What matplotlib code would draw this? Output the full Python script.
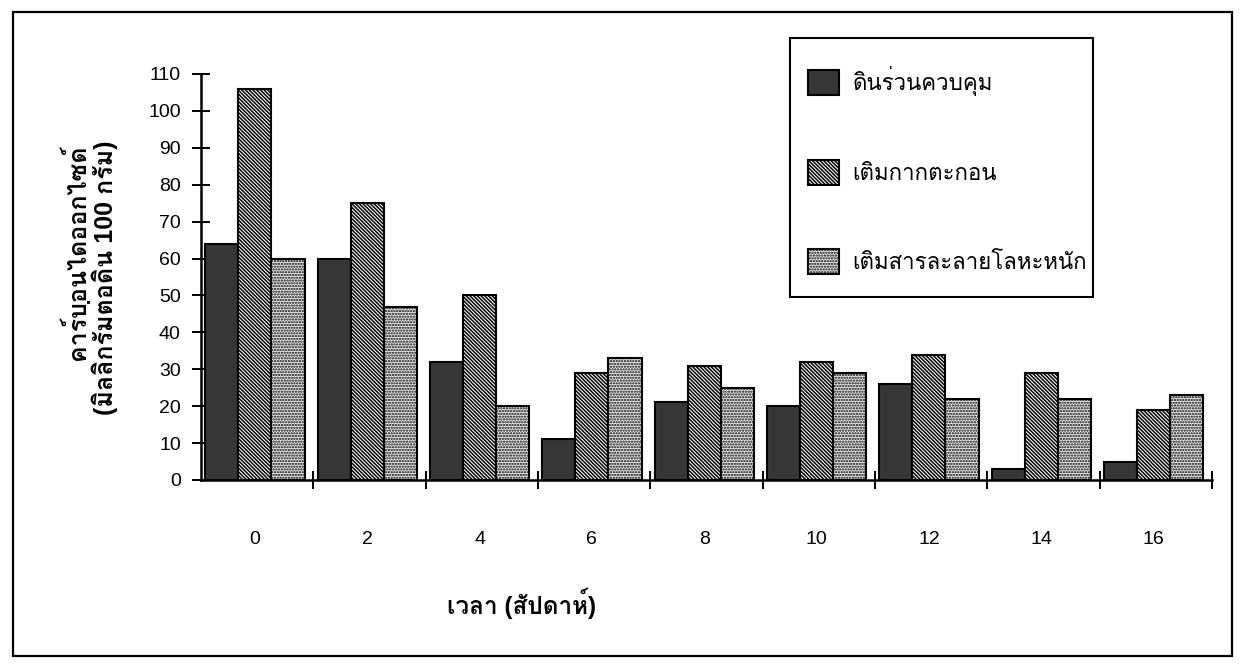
import matplotlib
matplotlib.use("Agg")
import matplotlib.pyplot as plt
from matplotlib import font_manager
from matplotlib.ft2font import FT2Font
from matplotlib.patches import Rectangle
import numpy as np

# ---- data ----
weeks = ["0", "2", "4", "6", "8", "10", "12", "14", "16"]
series_names = ["ดินร่วนควบคุม", "เติมกากตะกอน", "เติมสารละลายโลหะหนัก"]
control = [64, 60, 32, 11, 21, 20, 26, 3, 5]
sludge = [106, 75, 50, 29, 31, 32, 34, 29, 19]
heavy_metal = [60, 47, 20, 33, 25, 29, 22, 22, 23]
y_ticks = [0, 10, 20, 30, 40, 50, 60, 70, 80, 90, 100, 110]
ylabel_line1 = "คาร์บอนไดออกไซด์"
ylabel_line2 = "(มิลลิกรัมต่อดิน 100 กรัม)"
xlabel_text = "เวลา (สัปดาห์)"

# ---- find a font with Thai glyphs ----
thai_font = None
for f in font_manager.fontManager.ttflist:
    try:
        cm = FT2Font(f.fname).get_charmap()
        if 0x0E01 in cm and 0x0E2A in cm:
            thai_font = f.name
            break
    except Exception:
        pass
families = ["Liberation Sans"] + ([thai_font] if thai_font else []) + ["DejaVu Sans"]
plt.rcParams["font.family"] = families
plt.rcParams["hatch.linewidth"] = 1.1

W, H = 1240, 672
fig = plt.figure(figsize=(W / 100, H / 100), dpi=100)
fig.patch.set_facecolor("white")

def px(x0, y0, x1, y1):
    return [x0 / W, 1 - y1 / H, (x1 - x0) / W, (y1 - y0) / H]

ax = fig.add_axes(px(201, 74, 1212, 480))

n = len(weeks)
x = np.arange(n) + 0.48
w = 0.295
styles = [
    dict(facecolor="#363636", hatch=None),
    dict(facecolor="white", hatch="\\" * 9),
    dict(facecolor="#ebebeb", hatch="." * 6),
]
handles = []
for k, (vals, st) in enumerate(zip([control, sludge, heavy_metal], styles)):
    b = ax.bar(x + (k - 1) * w, vals, width=w, facecolor=st["facecolor"],
               hatch=st["hatch"], edgecolor="black", linewidth=1.5,
               label=series_names[k], zorder=3)
    handles.append(b)

ax.set_xlim(0, n)
ax.set_ylim(0, 110)
ax.set_yticks(y_ticks)
ax.set_yticklabels([str(t) for t in y_ticks], fontsize=14)
ax.tick_params(axis="y", direction="inout", length=13, width=1.4, pad=8)

ax.set_xticks(np.arange(n + 1)[1:])
ax.set_xticklabels([])
ax.tick_params(axis="x", which="major", direction="inout", length=13, width=1.4)
ax.set_xticks(x, minor=True)
ax.set_xticklabels(weeks, minor=True, fontsize=14)
ax.tick_params(axis="x", which="minor", length=0, pad=37)

for s in ["top", "right"]:
    ax.spines[s].set_visible(False)
for s in ["left", "bottom"]:
    ax.spines[s].set_linewidth(1.8)

# axis labels
fig.text(77 / W, 1 - 252 / H, ylabel_line1, rotation=90, ha="center", va="center",
         fontsize=18, fontweight="bold")
fig.text(103 / W, 1 - 278 / H, ylabel_line2, rotation=90, ha="center", va="center",
         fontsize=18, fontweight="bold")
fig.text(522 / W, 1 - 603 / H, xlabel_text, ha="center", va="center",
         fontsize=17.5, fontweight="bold")

# legend (frame drawn separately)
leg = fig.legend(handles=handles, labels=series_names,
                 loc="upper left", bbox_to_anchor=(808 / W, 1 - 66 / H),
                 fontsize=16, frameon=False, borderpad=0, labelspacing=2.9,
                 handlelength=1.4, handleheight=1.3, handletextpad=0.6,
                 borderaxespad=0)
fig.patches.append(Rectangle((790 / W, 1 - 297 / H), 303 / W, (297 - 38) / H,
                             transform=fig.transFigure, fill=False,
                             edgecolor="black", linewidth=1.5))

# outer frame
fig.patches.append(Rectangle((13 / W, 1 - 656 / H), (1232 - 13) / W, (656 - 12) / H,
                             transform=fig.transFigure, fill=False,
                             edgecolor="black", linewidth=1.6))

fig.savefig("out.png", dpi=100)
